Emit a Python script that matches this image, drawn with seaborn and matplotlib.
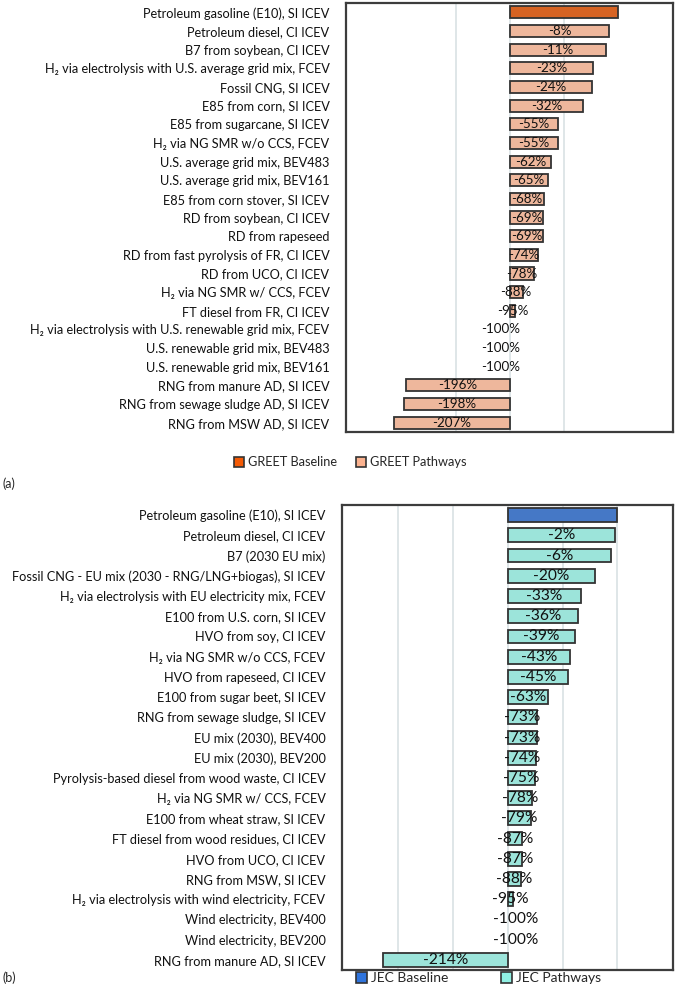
import numpy as np
import pandas as pd
import matplotlib
matplotlib.use("Agg")
import matplotlib.pyplot as plt
from matplotlib.patches import Patch
import seaborn as sns

# dane - panel (a) GREET
greet_labels = [
    "Petroleum gasoline (E10), SI ICEV",
    "Petroleum diesel, CI ICEV",
    "B7 from soybean, CI ICEV",
    "H₂ via electrolysis with U.S. average grid mix, FCEV",
    "Fossil CNG, SI ICEV",
    "E85 from corn, SI ICEV",
    "E85 from sugarcane, SI ICEV",
    "H₂ via NG SMR w/o CCS, FCEV",
    "U.S. average grid mix, BEV483",
    "U.S. average grid mix, BEV161",
    "E85 from corn stover, SI ICEV",
    "RD from soybean, CI ICEV",
    "RD from rapeseed",
    "RD from fast pyrolysis of FR, CI ICEV",
    "RD from UCO, CI ICEV",
    "H₂ via NG SMR w/ CCS, FCEV",
    "FT diesel from FR, CI ICEV",
    "H₂ via electrolysis with U.S. renewable grid mix, FCEV",
    "U.S. renewable grid mix, BEV483",
    "U.S. renewable grid mix, BEV161",
    "RNG from manure AD, SI ICEV",
    "RNG from sewage sludge AD, SI ICEV",
    "RNG from MSW AD, SI ICEV",
]
greet_change = [0, -8, -11, -23, -24, -32, -55, -55, -62, -65, -68, -69, -69,
                -74, -78, -88, -95, -100, -100, -100, -196, -198, -207]

# dane - panel (b) JEC
jec_labels = [
    "Petroleum gasoline (E10), SI ICEV",
    "Petroleum diesel, CI ICEV",
    "B7 (2030 EU mix)",
    "Fossil CNG - EU mix (2030 - RNG/LNG+biogas), SI ICEV",
    "H₂ via electrolysis with EU electricity mix, FCEV",
    "E100 from U.S. corn, SI ICEV",
    "HVO from soy, CI ICEV",
    "H₂ via NG SMR w/o CCS, FCEV",
    "HVO from rapeseed, CI ICEV",
    "E100 from sugar beet, SI ICEV",
    "RNG from sewage sludge, SI ICEV",
    "EU mix (2030), BEV400",
    "EU mix (2030), BEV200",
    "Pyrolysis-based diesel from wood waste, CI ICEV",
    "H₂ via NG SMR w/ CCS, FCEV",
    "E100 from wheat straw, SI ICEV",
    "FT diesel from wood residues, CI ICEV",
    "HVO from UCO, CI ICEV",
    "RNG from MSW, SI ICEV",
    "H₂ via electrolysis with wind electricity, FCEV",
    "Wind electricity, BEV400",
    "Wind electricity, BEV200",
    "RNG from manure AD, SI ICEV",
]
jec_change = [0, -2, -6, -20, -33, -36, -39, -43, -45, -63, -73, -73, -74,
              -75, -78, -79, -87, -87, -88, -95, -100, -100, -214]

greet_kinds = ["GREET Baseline", "GREET Pathways"]
jec_kinds = ["JEC Baseline", "JEC Pathways"]

COLORS = {
    "GREET Baseline": "#F45A05",
    "GREET Pathways": "#FBB28F",
    "JEC Baseline": "#2F74DC",
    "JEC Pathways": "#90F0E3",
}
EDGE = "#333333"

sns.set_style("white")
plt.rcParams["font.family"] = ["Lato", "Noto Sans", "DejaVu Sans"]


def make_df(labels, change, kinds):
    df = pd.DataFrame({"label": labels, "change": change})
    df["value"] = 100 + df["change"]
    df["kind"] = [kinds[0]] + [kinds[1]] * (len(df) - 1)
    return df


def draw_panel(ax, df, kinds, gridticks, bar_width, lab_fs, val_fs, zero_shift):
    sns.barplot(data=df, x="value", y="label", hue="kind", hue_order=kinds,
                palette=COLORS, dodge=False, width=bar_width, edgecolor=EDGE,
                linewidth=1.3, legend=False, orient="h", ax=ax)
    # bez obramowania dla zerowych słupków
    for p in ax.patches:
        if abs(p.get_width()) < 1e-9:
            p.set_edgecolor("none")
    for i, row in df.iterrows():
        if i == 0:
            continue
        xpos = row["value"] / 2 if row["value"] != 0 else zero_shift
        ax.text(xpos, i, f"{row['change']}%", ha="center",
                va="center", fontsize=val_fs, color="#111111")
    ax.set_xlim(-151, 151)
    ax.set_xticks(gridticks)
    ax.grid(axis="x", color="#d6dfe2", linewidth=1.1)
    ax.grid(axis="y", visible=False)
    ax.set_axisbelow(True)
    ax.tick_params(axis="both", length=0, labelbottom=False, pad=12)
    ax.set_xlabel("")
    ax.set_ylabel("")
    for lab in ax.get_yticklabels():
        lab.set_fontsize(lab_fs)
        lab.set_color("#111111")
    for s in ax.spines.values():
        s.set_visible(True)
        s.set_color("#3c3c3c")
        s.set_linewidth(1.6)


fig = plt.figure(figsize=(6.76, 9.9), dpi=100)

ax_a = fig.add_axes([0.512, 0.5636, 0.484, 0.4333])
df_a = make_df(greet_labels, greet_change, greet_kinds)
draw_panel(ax_a, df_a, greet_kinds, [-50, 0, 50], 0.65, 9.2, 9.6, -8)

ax_b = fig.add_axes([0.506, 0.0202, 0.49, 0.4697])
df_b = make_df(jec_labels, jec_change, jec_kinds)
draw_panel(ax_b, df_b, jec_kinds, [-100, -50, 0, 50, 100], 0.68, 9.2, 11.2, 7)

# legendy
def handles(kinds):
    return [Patch(facecolor=COLORS[k], edgecolor=EDGE, linewidth=1.2, label=k)
            for k in kinds]

fig.legend(handles=handles(greet_kinds), loc="center", ncol=2,
           bbox_to_anchor=(0.518, 0.533), frameon=False, fontsize=9.2,
           handlelength=0.8, handleheight=0.8, handletextpad=0.3,
           columnspacing=1.5)
fig.legend(handles=handles(jec_kinds), loc="center", ncol=2,
           bbox_to_anchor=(0.708, 0.012), frameon=False, fontsize=10,
           handlelength=0.8, handleheight=0.8, handletextpad=0.3,
           columnspacing=3.8)

fig.text(0.004, 1 - 484 / 990, "(a)", fontsize=9, va="center", ha="left")
fig.text(0.004, 1 - 978 / 990, "(b)", fontsize=9, va="center", ha="left")

fig.savefig("out.png", dpi=100)
